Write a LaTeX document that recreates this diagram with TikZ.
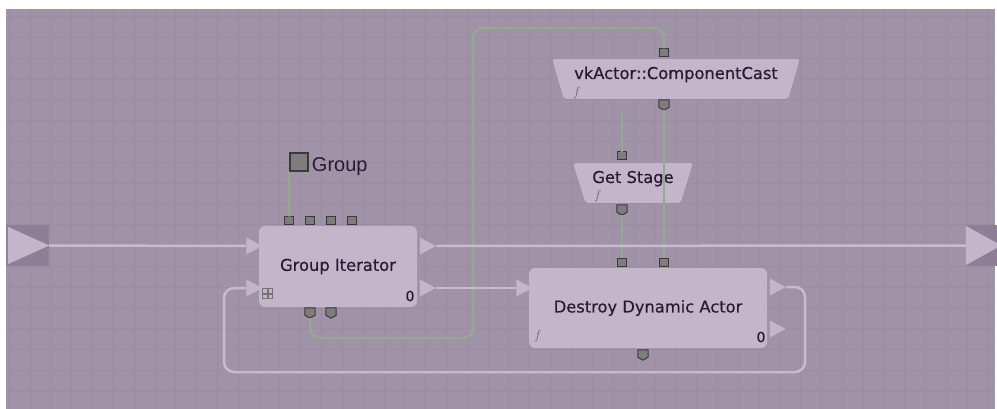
\documentclass[tikz,border=0pt]{standalone}
\usepackage{fontspec}
\newfontfamily\boxfont[FakeBold=0.4]{DejaVu Sans}
\newfontfamily\varfont{Liberation Sans}
\usetikzlibrary{shapes.geometric,positioning}
\definecolor{canvas}{RGB}{160,146,167}
\definecolor{gridln}{RGB}{154,140,162}
\definecolor{boxfill}{RGB}{196,181,203}
\definecolor{flowln}{RGB}{200,186,207}
\definecolor{wireln}{RGB}{148,170,148}
\definecolor{portfill}{RGB}{125,125,125}
\definecolor{portedge}{RGB}{58,58,58}
\definecolor{termdark}{RGB}{142,126,150}
\definecolor{txt}{RGB}{40,26,50}

\begin{document}
\begin{tikzpicture}[x=1pt,y=-1pt,
block/.style={fill=boxfill,rounded corners=6pt,inner sep=0pt,text=txt,
font=\boxfont\fontsize{16.3}{19}\selectfont},
cast/.style={trapezium,trapezium angle=66,shape border rotate=180,
trapezium stretches=true,fill=boxfill,rounded corners=3pt,inner sep=0pt,
minimum height=40pt,text height=12pt,text depth=12pt,text=txt,
font=\boxfont\fontsize{16.3}{19}\selectfont},
inport/.style={draw=portedge,fill=portfill,line width=1pt,inner sep=0pt,
minimum width=9pt,minimum height=8pt},
outport/.style={inner sep=0pt,minimum width=10pt,minimum height=10pt},
flowport/.style={isosceles triangle,isosceles triangle stretches,
fill=boxfill,inner sep=0pt,minimum width=17pt,minimum height=16pt},
terminal/.style={fill=termdark,inner sep=0pt,minimum width=43pt,minimum height=41pt},
flow/.style={draw=flowln,line width=2.5pt},
wire/.style={draw=wireln,line width=2.5pt,rounded corners=10pt},
fmark/.style={font=\itshape\fontsize{13}{13}\selectfont,text=black!60,inner sep=0pt},
count/.style={font=\boxfont\fontsize{14}{14}\selectfont,text=txt,inner sep=0pt}
]
\clip (0,0) rectangle (997,409);
\fill[white] (0,0) rectangle (997,409);
\fill[canvas] (6,9) rectangle (995,409);
\foreach \gx in {0,...,47}
  \draw[gridln,line width=1pt] (9.2+20.83*\gx,9) -- (9.2+20.83*\gx,409);
\foreach \gy in {0,...,18}
  \draw[gridln,line width=1pt] (6,16.5+20.83*\gy) -- (995,16.5+20.83*\gy);

\node[terminal] (entry) at (27.5,245.5) {};
\fill[boxfill] ([shift={(2,2)}]entry.north west) -- (entry.east)
  -- ([shift={(2,-2)}]entry.south west) -- cycle;
\node[terminal] (exit) at (987.5,245.5) {};
\fill[boxfill] ([shift={(0,1)}]exit.north west) -- ([xshift=-8pt]exit.east)
  -- ([shift={(0,-1)}]exit.south west) -- cycle;

\node[block,minimum width=158pt,minimum height=81pt] (iter) at (338,266.5) {Group Iterator};
\node[block,minimum width=238pt,minimum height=80pt] (destroy) at (648,308) {Destroy Dynamic Actor};
\node[cast,minimum width=248pt] (cast) at (676,79) {vkActor::ComponentCast};
\node[cast,minimum width=120pt] (stage) at (633,183) {Get Stage};

\node[count] (iter-count) at (410,296) {0};
\node[count] (destroy-count) at (761,337) {0};
\node[fmark] (destroy-f) at (537,336) {f};
\node[fmark] (cast-f) at (576,93) {f};
\node[fmark] (stage-f) at (597,196) {f};
\foreach \i in {0,1}
  \foreach \j in {0,1}
    \draw[black!55,line width=0.7pt] (262.5+5.5*\i,288.5+5.5*\j) rectangle ++(4.5,4.5);

\node[flowport] (iter-fin1) at (251.5,246) {};
\node[flowport] (iter-fin2) at (251.5,288) {};
\node[flowport] (iter-fout1) at (425,246) {};
\node[flowport] (iter-fout2) at (425,288) {};
\node[flowport] (destroy-fin) at (521.5,288) {};
\node[flowport] (destroy-fout1) at (775,287) {};
\node[flowport] (destroy-fout2) at (775,329) {};

\node[draw=portedge,fill=portfill,line width=1.5pt,minimum size=18pt,inner sep=0pt] (grpvar) at (299,162) {};
\node[anchor=base west,inner sep=0pt,text=txt,font=\varfont\fontsize{20}{20}\selectfont]
  (grplabel) at ([xshift=3pt]grpvar.south east) {Group};

\foreach \px [count=\k] in {289,310,331,352}
  \node[inport] (iter-in\k) at (\px,221) {};
\node[inport] (destroy-in1) at (622,262) {};
\node[inport] (destroy-in2) at (664,262) {};
\node[inport] (cast-in) at (664,53) {};
\node[inport] (stage-in) at (622,156) {};

\node[outport] (iter-out1) at (310,313) {};
\node[outport] (iter-out2) at (331,313) {};
\node[outport] (destroy-out) at (643,355) {};
\node[outport] (cast-out) at (664,105) {};
\node[outport] (stage-out) at (622,210) {};
\foreach \p in {iter-out1,iter-out2,destroy-out,cast-out,stage-out}
  \draw[draw=portedge,fill=portfill,line width=1pt,line join=round]
    (\p.north west) -- (\p.north east) -- ([yshift=3pt]\p.south east)
    -- (\p.south) -- ([yshift=3pt]\p.south west) -- cycle;

\coordinate (wire-low) at (473,338);
\coordinate (wire-top) at (473,28);
\coordinate (stage-free) at (622,113);
\coordinate (loop-right) at (805,372);
\coordinate (loop-left) at (224,372);

\draw[wire] (grpvar.south west) -- (iter-in1.north);
\draw[wire] (iter-out1.south) |- (wire-low) -- (wire-top) -| (cast-in.north);
\draw[wire] (cast-out.south) -- (destroy-in2.north);
\draw[wire] (stage-out.south) -- (destroy-in1.north);
\draw[wire,line cap=round] (stage-in.north) -- (stage-free);

\draw[flow] (entry.east) -- (iter-fin1.west);
\draw[flow] (iter-fout1.east) -- (exit.west);
\draw[flow] (iter-fout2.east) -- (destroy-fin.west);
\draw[flow,rounded corners=10pt] (destroy-fout1.east) -| (loop-right) -- (loop-left) |- (iter-fin2.west);
\end{tikzpicture}
\end{document}
